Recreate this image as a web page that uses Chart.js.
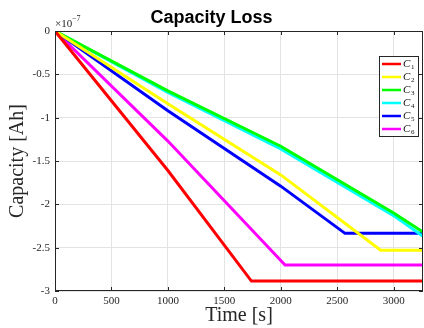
<!DOCTYPE html>
<html>
<head>
<meta charset="utf-8">
<script src="https://cdn.jsdelivr.net/npm/chart.js@4"></script>
<style>
  html, body { margin: 0; padding: 0; background: #fff; }
  #wrap { width: 424px; height: 328px; }
</style>
</head>
<body>
<div id="wrap"><canvas id="cap"></canvas></div>
<script>
// capacity in units of 1e-7 Ah, time in seconds
const SERIES_NAMES = ["1", "2", "3", "4", "5", "6"];
const COLORS = ["#ff0000", "#ffff00", "#00ff00", "#00ffff", "#0000ff", "#ff00ff"];

const timeC1 = [0, 1000, 1740, 3260];
const capC1  = [0, -1.61, -2.885, -2.885];
const timeC2 = [0, 1000, 2000, 2885, 3260];
const capC2  = [0, -0.84, -1.66, -2.53, -2.53];
const timeC3 = [0, 1000, 2000, 3000, 3260];
const capC3  = [0, -0.69, -1.33, -2.10, -2.32];
const timeC4 = [0, 1000, 2000, 3000, 3260];
const capC4  = [0, -0.71, -1.36, -2.13, -2.37];
const timeC5 = [0, 1000, 2000, 2569, 3260];
const capC5  = [0, -0.92, -1.79, -2.335, -2.335];
const timeC6 = [0, 1000, 2038, 3260];
const capC6  = [0, -1.27, -2.70, -2.70];

const X_TICKS = [0, 500, 1000, 1500, 2000, 2500, 3000];
const Y_TICKS = ["0", "-0.5", "-1", "-1.5", "-2", "-2.5", "-3"];

const times = [timeC1, timeC2, timeC3, timeC4, timeC5, timeC6];
const caps = [capC1, capC2, capC3, capC4, capC5, capC6];

const SERIF = "'Liberation Serif', 'DejaVu Serif', serif";

// frame, inner tick marks, exponent label and legend box
const matlabLook = {
  id: "matlabLook",
  afterDraw(chart) {
    const ctx = chart.ctx;
    const a = chart.chartArea;
    const xs = chart.scales.x, ys = chart.scales.y;
    ctx.save();
    ctx.strokeStyle = "#262626";
    ctx.lineWidth = 1;
    ctx.strokeRect(a.left + 0.5, a.top + 0.5, a.right - a.left - 1, a.bottom - a.top - 1);
    ctx.beginPath();
    X_TICKS.forEach(v => {
      const px = Math.round(xs.getPixelForValue(v)) + 0.5;
      ctx.moveTo(px, a.bottom); ctx.lineTo(px, a.bottom - 4);
      ctx.moveTo(px, a.top); ctx.lineTo(px, a.top + 4);
    });
    Y_TICKS.forEach(t => {
      const py = Math.round(ys.getPixelForValue(parseFloat(t))) + 0.5;
      ctx.moveTo(a.left, py); ctx.lineTo(a.left + 4, py);
      ctx.moveTo(a.right, py); ctx.lineTo(a.right - 4, py);
    });
    ctx.stroke();

    // exponent
    ctx.fillStyle = "#262626";
    ctx.textBaseline = "alphabetic";
    ctx.textAlign = "left";
    ctx.font = "11px " + SERIF;
    ctx.fillText("\u00d710", a.left, a.top - 4);
    ctx.font = "8px " + SERIF;
    ctx.fillText("\u22127", a.left + 17, a.top - 10);

    // legend
    const bx = 379, by = 56, bw = 39, bh = 80;
    ctx.fillStyle = "#fff";
    ctx.fillRect(bx, by, bw, bh);
    ctx.strokeStyle = "#262626";
    ctx.strokeRect(bx + 0.5, by + 0.5, bw, bh);
    chart.data.datasets.forEach((ds, i) => {
      const y = by + 8 + i * 13;
      ctx.strokeStyle = ds.borderColor;
      ctx.lineWidth = 2.5;
      ctx.beginPath();
      ctx.moveTo(bx + 3, y); ctx.lineTo(bx + 22, y);
      ctx.stroke();
      ctx.fillStyle = "#111";
      ctx.font = "italic 11px " + SERIF;
      ctx.textBaseline = "middle";
      ctx.fillText("C", bx + 24, y);
      ctx.font = "7px " + SERIF;
      ctx.fillText(SERIES_NAMES[i], bx + 32, y + 3);
    });
    ctx.restore();
  }
};

const datasets = SERIES_NAMES.map((n, i) => ({
  label: "C" + n,
  data: times[i].map((t, k) => ({ x: t, y: caps[i][k] })),
  borderColor: COLORS[i],
  backgroundColor: COLORS[i],
  borderWidth: 3,
  pointRadius: 0,
  tension: 0,
  fill: false
}));

new Chart(document.getElementById("cap"), {
  type: "line",
  data: { datasets: datasets },
  plugins: [matlabLook],
  options: {
    responsive: true,
    maintainAspectRatio: false,
    animation: false,
    layout: { padding: { right: 1 } },
    plugins: {
      legend: { display: false },
      tooltip: { enabled: false },
      title: {
        display: true,
        text: "Capacity Loss",
        color: "#000",
        font: { family: "'Liberation Sans', Arial, sans-serif", size: 18, weight: "bold" },
        padding: { top: 7, bottom: 2.4 }
      }
    },
    scales: {
      x: {
        type: "linear",
        min: 0,
        max: 3260,
        afterBuildTicks: s => { s.ticks = X_TICKS.map(v => ({ value: v })); },
        afterFit: s => { s.height = 37; },
        grid: { color: "#e3e3e3", drawTicks: false },
        border: { display: false },
        ticks: {
          color: "#262626",
          padding: 4,
          maxRotation: 0,
          font: { family: SERIF, size: 11 },
          callback: (v, i) => String(X_TICKS[i])
        },
        title: {
          display: true,
          text: "Time [s]",
          color: "#262626",
          font: { family: SERIF, size: 20 },
          padding: { top: -2, bottom: 0 }
        }
      },
      y: {
        type: "linear",
        min: -3,
        max: 0,
        afterBuildTicks: s => { s.ticks = Y_TICKS.map(t => ({ value: parseFloat(t) })); },
        afterFit: s => { s.width = 55; },
        grid: { color: "#e3e3e3", drawTicks: false },
        border: { display: false },
        ticks: {
          color: "#262626",
          padding: 5,
          font: { family: SERIF, size: 11 },
          callback: (v, i) => Y_TICKS[i]
        },
        title: {
          display: true,
          text: "Capacity [Ah]",
          color: "#262626",
          font: { family: SERIF, size: 20 },
          padding: { top: 6, bottom: 0 }
        }
      }
    }
  }
});
</script>
</body>
</html>
